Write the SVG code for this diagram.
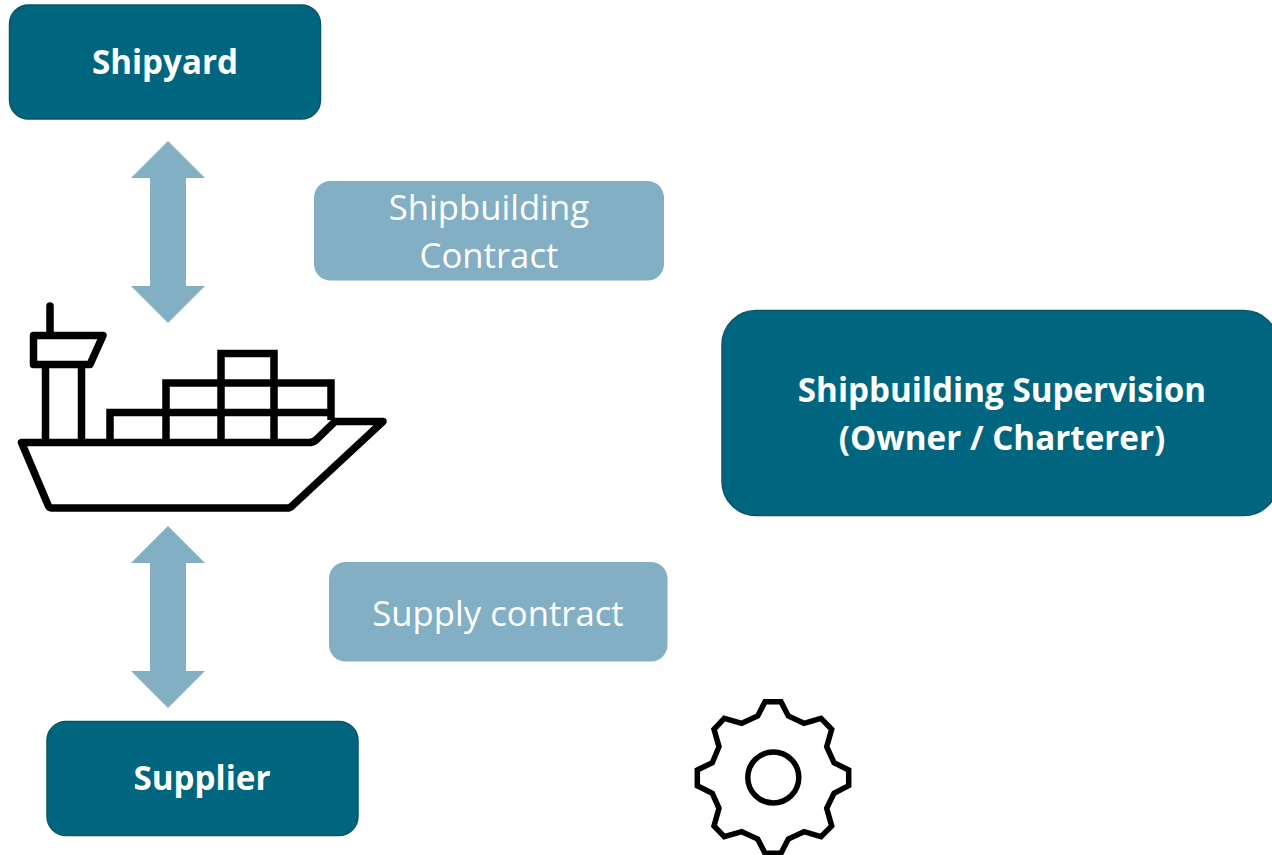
<svg xmlns="http://www.w3.org/2000/svg" width="1272" height="855" viewBox="0 0 1272 855">
<style>
.node{fill:#00667f;stroke:#0b5468;stroke-width:1.5}
.lab{fill:#82afc4}
.arrow{fill:#82afc4}
.t{font-family:"Open Sans","Liberation Sans",sans-serif;text-anchor:middle}
.b{font-weight:700;font-size:33.200px;fill:#fff}
.l{font-size:34.700px;fill:#fff}
.ic{fill:none;stroke:#000;stroke-width:7.500;stroke-linejoin:round;stroke-linecap:round}
.ig{fill:none;stroke:#000;stroke-width:5.500;stroke-linejoin:miter}
</style>
<rect width="1272" height="855" fill="#fff"/>
<g id="connectors">
<path class="arrow" d="M168 141L205 178H186V286H205L168 323L131 286H150V178H131Z"/>
<path class="arrow" d="M168 526L205 563H186V671H205L168 708L131 671H150V563H131Z"/>
</g>
<g id="shipyard"><rect class="node" x="9.500" y="5" width="311" height="114" rx="19"/><text class="t b" x="165" y="74">Shipyard</text></g>
<g id="supplier"><rect class="node" x="47" y="721.500" width="311" height="114" rx="19"/><text class="t b" x="202" y="790">Supplier</text></g>
<g id="supervision"><rect class="node" x="722" y="310.500" width="556" height="205" rx="34"/><text class="t b" x="1002" y="402">Shipbuilding Supervision</text><text class="t b" x="1002" y="450">(Owner / Charterer)</text></g>
<g id="shipbuilding-contract"><rect class="lab" x="314" y="181" width="350" height="99.500" rx="16.500"/><text class="t l" x="489" y="219.500">Shipbuilding</text><text class="t l" x="489" y="267.500">Contract</text></g>
<g id="supply-contract"><rect class="lab" x="329" y="562" width="338.500" height="99.500" rx="16.500"/><text class="t l" x="498" y="625.500">Supply contract</text></g>
<g id="ship" class="ic">
<path d="M21.500 442.500H309Q313 442.500 316 440L335 421.500H383L292 506Q290 508 287 508H52Q49 508 48 505Z"/>
<path d="M50 334V306"/>
<path d="M33.500 335.500H103L90 364.500H33.500Z"/>
<path d="M45.500 365V442M81.500 365V442" stroke-linecap="butt"/>
<path d="M110 442V412.500H331M166 442V383H331V420M221 442V353.500H274V442" stroke-linecap="butt" stroke-linejoin="miter"/>
</g>
<g id="gear">
<path class="ig" d="M765 701.700H781L788.300 716L804 723.300L821 718.300L831.700 729.300L826.700 746.700L834 762.700L848.700 770V785.700L834 793.300L826.700 808.300L831.700 826L821 836.700L804 831.700L788.300 839L781 853.300H765L757.700 839L741.700 831.700L724.300 836.700L714 826L719 808.300L712.300 793.300L697.300 785.700V770L712.300 762.700L719 746.700L714 729.300L724.300 718.300L741.700 723.300L757.700 716Z"/>
<circle class="ig" cx="773.300" cy="777.500" r="25.500"/>
</g>
</svg>
